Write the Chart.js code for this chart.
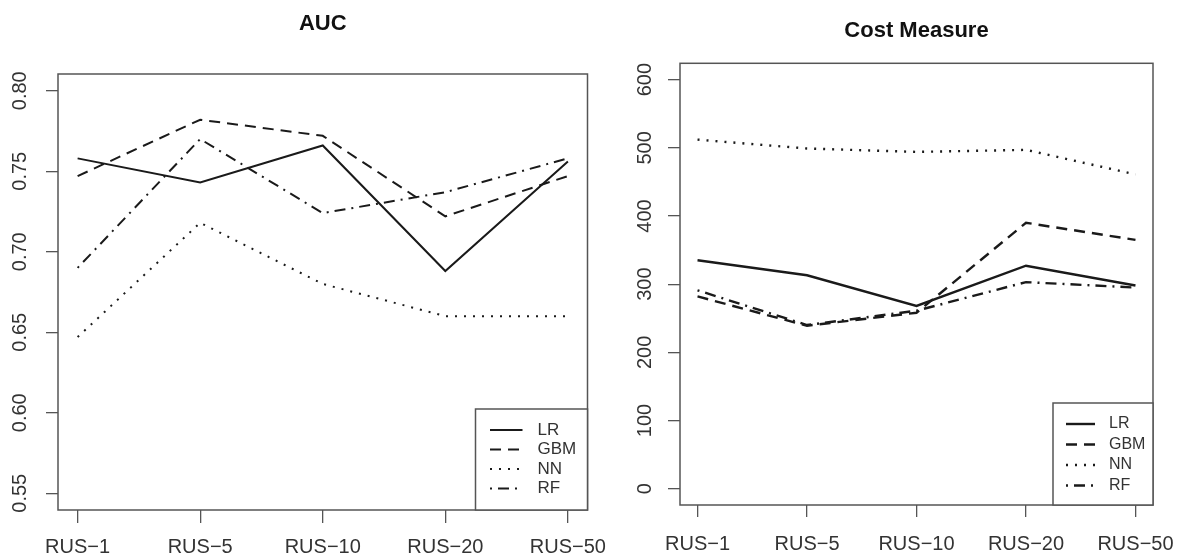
<!DOCTYPE html>
<html>
<head>
<meta charset="utf-8">
<script src="https://cdn.jsdelivr.net/npm/chart.js@4"></script>
<style>
  html, body { margin: 0; padding: 0; background: #fff; overflow: hidden; }
  body { width: 1179px; height: 558px; position: relative; }
  canvas { position: absolute; top: 0; }
  #auc { left: 0; }
  #cost { left: 600px; }
</style>
</head>
<body>
<canvas id="auc" width="620" height="558"></canvas>
<canvas id="cost" width="579" height="558"></canvas>
<script>
var categories = ["RUS\u22121", "RUS\u22125", "RUS\u221210", "RUS\u221220", "RUS\u221250"];

// AUC panel
var aucLR = [0.758, 0.743, 0.766, 0.688, 0.756];
var aucGBM = [0.747, 0.782, 0.772, 0.722, 0.747];
var aucNN = [0.647, 0.718, 0.680, 0.660, 0.660];
var aucRF = [0.690, 0.770, 0.724, 0.737, 0.758];
var aucTicks = [0.55, 0.60, 0.65, 0.70, 0.75, 0.80];

// Cost measure panel
var costLR = [335, 313, 268, 327, 298];
var costGBM = [282, 239, 258, 390, 365];
var costNN = [512, 499, 494, 497, 461];
var costRF = [291, 240, 261, 303, 295];
var costTicks = [0, 100, 200, 300, 400, 500, 600];

var FONT = '"Liberation Sans", Arial, Helvetica, sans-serif';
var INK = "#1a1a1a";
var dashes = { LR: [], GBM: [11, 7], NN: [2, 7], RF: [2, 6, 11, 6] };

function series(label, values, width) {
  return {
    label: label,
    data: values.map(function (v, i) { return { x: i, y: v }; }),
    borderColor: INK,
    borderWidth: width,
    borderDash: dashes[label],
    pointRadius: 0,
    fill: false,
    tension: 0,
  };
}

// box around the plot region plus an R-style legend in the bottom right corner
var frameLegend = {
  id: "frameLegend",
  afterDatasetsDraw: function (chart, args, o) {
    var ctx = chart.ctx, a = chart.chartArea;
    ctx.save();
    ctx.strokeStyle = "#555";
    ctx.lineWidth = 1.5;
    ctx.setLineDash([]);
    ctx.strokeRect(a.left, a.top, a.right - a.left, a.bottom - a.top);
    var bx = a.right - o.w, by = a.bottom - o.h;
    ctx.fillStyle = "#fff";
    ctx.fillRect(bx, by, o.w, o.h);
    ctx.strokeRect(bx, by, o.w, o.h);
    ctx.font = o.size + "px " + FONT;
    ctx.textBaseline = "middle";
    chart.data.datasets.forEach(function (ds, i) {
      var y = by + o.first + i * o.step;
      ctx.strokeStyle = ds.borderColor;
      ctx.lineWidth = ds.borderWidth;
      ctx.setLineDash(ds.borderDash);
      ctx.beginPath();
      ctx.moveTo(bx + o.x0, y);
      ctx.lineTo(bx + o.x1, y);
      ctx.stroke();
      ctx.setLineDash([]);
      ctx.fillStyle = "#333";
      ctx.fillText(ds.label, bx + o.tx, y);
    });
    ctx.restore();
  },
};

function makeChart(id, p) {
  return new Chart(document.getElementById(id).getContext("2d"), {
    type: "line",
    data: { datasets: p.datasets },
    plugins: [frameLegend],
    options: {
      responsive: false,
      animation: false,
      devicePixelRatio: 1,
      layout: { padding: { left: 0, right: p.padRight, top: 0, bottom: 0 } },
      plugins: {
        legend: { display: false },
        tooltip: { enabled: false },
        title: {
          display: true,
          text: p.title,
          fullSize: false,
          color: "#111",
          font: { family: FONT, size: 22, weight: "bold" },
          padding: { top: p.titleTop, bottom: p.titleBottom },
        },
        frameLegend: p.legend,
      },
      scales: {
        x: {
          type: "linear",
          min: -0.16,
          max: 4.16,
          border: { display: false },
          grid: { display: true, drawOnChartArea: false, drawTicks: true, tickLength: p.xTick, color: "#555", lineWidth: 1.3 },
          afterBuildTicks: function (s) {
            s.ticks = categories.map(function (c, i) { return { value: i }; });
          },
          afterFit: function (s) {
            s.height = p.xHeight;
            s.paddingLeft = 0;
            s.paddingRight = 0;
          },
          ticks: {
            autoSkip: false,
            maxRotation: 0,
            padding: p.xPad,
            color: "#333",
            font: { family: FONT, size: 20 },
            callback: function (v) { return categories[v]; },
          },
        },
        y: {
          type: "linear",
          min: p.yMin,
          max: p.yMax,
          border: { display: false },
          grid: { display: true, drawOnChartArea: false, drawTicks: true, tickLength: 12, color: "#555", lineWidth: 1.3 },
          afterBuildTicks: function (s) {
            s.ticks = p.yTicks.map(function (v) { return { value: v }; });
          },
          afterFit: function (s) {
            s.width = p.yWidth;
            s.paddingTop = 0;
            s.paddingBottom = 0;
          },
          ticks: {
            autoSkip: false,
            minRotation: 90,
            maxRotation: 90,
            crossAlign: "center",
            padding: p.yPad,
            color: "#333",
            font: { family: FONT, size: 20 },
            callback: p.yFormat,
          },
        },
      },
    },
  });
}

makeChart("auc", {
  title: "AUC",
  titleTop: 10.8,
  titleBottom: 36.8,
  padRight: 32.5,
  yWidth: 58,
  yPad: 6.5,
  xHeight: 48,
  xTick: 13,
  xPad: 12.5,
  yMin: 0.5396,
  yMax: 0.8104,
  yTicks: aucTicks,
  yFormat: function (v) { return v.toFixed(2); },
  legend: { w: 112, h: 101, first: 21, step: 19.5, x0: 14.5, x1: 47, tx: 62, size: 17 },
  datasets: [
    series("LR", aucLR, 2),
    series("GBM", aucGBM, 2),
    series("NN", aucNN, 2),
    series("RF", aucRF, 2),
  ],
});

makeChart("cost", {
  title: "Cost Measure",
  titleTop: 17.8,
  titleBottom: 19.1,
  padRight: 26,
  yWidth: 80,
  yPad: 6.3,
  xHeight: 53,
  xTick: 12,
  xPad: 15,
  yMin: -24,
  yMax: 624,
  yTicks: costTicks,
  yFormat: function (v) { return String(v); },
  legend: { w: 100, h: 102, first: 21, step: 20.5, x0: 13, x1: 42, tx: 56, size: 16 },
  datasets: [
    series("LR", costLR, 2.4),
    series("GBM", costGBM, 2.4),
    series("NN", costNN, 2.4),
    series("RF", costRF, 2.4),
  ],
});
</script>
</body>
</html>
